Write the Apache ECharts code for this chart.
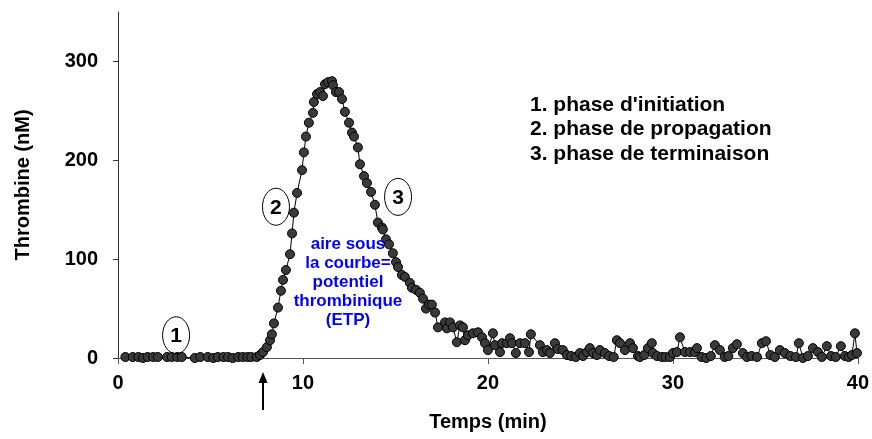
<!DOCTYPE html>
<html>
<head>
<meta charset="utf-8">
<script src="https://cdn.jsdelivr.net/npm/echarts@6/dist/echarts.min.js"></script>
<style>
html,body{margin:0;padding:0;background:#fff;}
#chart{width:872px;height:439px;}
</style>
</head>
<body>
<div id="chart"></div>
<script>
// Time (min)
var timeMin = [
 0.4,0.8,1.1,1.35,1.6,1.9,2.15,2.65,2.9,3.2,3.45,4.15,4.45,4.85,5.15,5.4,5.7,5.95,6.2,6.5,6.75,7.0,7.2,7.5,
 7.68,7.84,8.05,8.22,8.32,8.43,8.65,8.81,8.92,9.08,9.30,9.41,9.51,9.68,9.95,10.05,10.16,10.32,10.54,10.59,10.76,10.92,
 11.08,11.19,11.35,11.57,11.62,11.78,11.95,12.11,12.27,12.49,12.65,12.76,12.97,13.08,13.30,13.46,13.68,13.89,14.05,
 14.27,14.32,14.49,14.65,14.86,15.03,15.14,15.35,15.51,15.78,15.89,16.11,16.32,16.49,16.65,16.81,16.97,17.14,17.30,
 17.68,17.78,17.95,18.11,18.32,18.49,18.65,18.76,18.92,19.19,19.46,19.68,19.84,20.0,20.27,20.38,20.65,20.76,21.03,
 21.19,21.30,21.51,21.73,22.0,22.22,22.32,22.81,22.97,23.19,23.35,23.62,23.78,24.05,24.27,24.5,24.75,24.97,25.14,
 25.35,25.51,25.68,25.89,26.05,26.32,26.55,26.8,26.97,27.14,27.41,27.68,27.84,28.11,28.22,28.45,28.65,28.86,28.92,
 29.14,29.41,29.6,29.84,30.0,30.22,30.38,30.65,30.92,31.19,31.30,31.55,31.8,32.05,32.27,32.54,32.8,33.0,33.24,33.46,
 33.78,34.0,34.25,34.55,34.81,35.03,35.27,35.51,35.78,36.05,36.35,36.65,36.81,37.03,37.3,37.57,37.84,38.05,38.32,
 38.55,38.8,39.08,39.3,39.5,39.68,39.84,39.95
];
// Thrombin (nM)
var thrombin = [
 1,1,1,0,1,1,1,1,1,1,1,0,1,1,0,1,1,1,0,1,1,1,1,1,
 3,6,11,18,24,35,51,68,79,89,105,126,147,167,190,208,224,238,248,259,267,269,
 265,277,279,280,276,269,269,262,249,238,228,224,213,196,184,177,168,155,137,
 132,130,120,115,106,97,92,84,82,76,71,69,66,60,50,54,54,46,31,
 36,30,36,31,16,33,31,18,23,25,26,21,15,8,25,13,6,15,15,
 20,15,5,15,15,6,24,13,6,8,5,15,9,8,3,2,1,5,2,
 6,10,5,3,8,5,2,1,18,15,8,15,10,2,1,3,10,15,5,
 2,1,1,1,5,6,21,6,6,6,10,1,0,2,13,8,1,2,10,14,
 5,1,2,1,15,17,3,1,8,5,2,1,15,0,2,10,6,1,12,
 2,1,12,2,1,3,25,5
];
var xTicks = [0, 10, 20, 30, 40];
var yTicks = [0, 100, 200, 300];
var phaseLegend = ["1. phase d'initiation", "2. phase de propagation", "3. phase de terminaison"];
var etpText = ["aire sous", "la courbe=", "potentiel", "thrombinique", "(ETP)"];
// phase markers: [label, time, thrombin]
var phaseMarks = [["1", 3.14, 23], ["2", 8.54, 153], ["3", 15.14, 163]];
var arrowTime = 7.84;

var seriesData = timeMin.map(function (t, i) { return [t, thrombin[i]]; });
var FONT = '"Liberation Sans", Arial, sans-serif';

var chart = echarts.init(document.getElementById('chart'));
var option = {
  animation: false,
  backgroundColor: '#fff',
  grid: { left: 118, right: 14, top: 12, bottom: 81, containLabel: false },
  xAxis: {
    type: 'value', min: 0, max: 40, interval: 10,
    name: 'Temps (min)', nameLocation: 'middle', nameGap: 54,
    nameTextStyle: { fontFamily: FONT, fontWeight: 'bold', fontSize: 20, color: '#000' },
    axisLine: { lineStyle: { color: '#555', width: 1 } },
    axisTick: { show: true, inside: false, length: 6, lineStyle: { color: '#555' } },
    axisLabel: { margin: 15, fontFamily: FONT, fontWeight: 'bold', fontSize: 20, color: '#000' },
    splitLine: { show: false }
  },
  yAxis: {
    type: 'value', min: 0, max: 350,
    name: 'Thrombine (nM)', nameLocation: 'middle', nameGap: 85,
    nameTextStyle: { fontFamily: FONT, fontWeight: 'bold', fontSize: 20, color: '#000' },
    axisLine: { show: true, lineStyle: { color: '#333', width: 1 } },
    axisTick: { show: true, inside: false, length: 5, customValues: yTicks, lineStyle: { color: '#333' } },
    axisLabel: { margin: 20, customValues: yTicks, fontFamily: FONT, fontWeight: 'bold', fontSize: 20, color: '#000' },
    splitLine: { show: false }
  },
  series: [{
    type: 'line',
    data: seriesData,
    symbol: 'circle',
    symbolSize: 9,
    showAllSymbol: true,
    itemStyle: { color: '#3a3a3a', borderColor: '#000', borderWidth: 1 },
    lineStyle: { color: '#000', width: 1 },
    z: 3
  }]
};
chart.setOption(option);

function px(x, y) { return chart.convertToPixel({ gridIndex: 0 }, [x, y]); }

var graphics = [];
phaseMarks.forEach(function (m) {
  var p = px(m[1], m[2]);
  graphics.push({
    type: 'ellipse', shape: { cx: p[0], cy: p[1], rx: 13.5, ry: 18.5 },
    style: { fill: 'rgba(255,255,255,0)', stroke: '#000', lineWidth: 1 }, z: 10
  });
  graphics.push({
    type: 'text', x: p[0], y: p[1] + 1,
    style: { text: m[0], fontFamily: FONT, fontWeight: 'bold', fontSize: 21, fill: '#000', align: 'center', verticalAlign: 'middle' },
    z: 11
  });
});
// arrow under the x axis marking the lag time
var a0 = px(arrowTime, 0);
graphics.push({
  type: 'line', shape: { x1: a0[0], y1: a0[1] + 52, x2: a0[0], y2: a0[1] + 22 },
  style: { stroke: '#000', lineWidth: 2 }, z: 10
});
graphics.push({
  type: 'polygon', shape: { points: [[a0[0], a0[1] + 14], [a0[0] - 4.5, a0[1] + 25], [a0[0] + 4.5, a0[1] + 25]] },
  style: { fill: '#000' }, z: 10
});
// legend of phases
phaseLegend.forEach(function (s, i) {
  graphics.push({
    type: 'text', x: 530, y: 105 + i * 24.5,
    style: { text: s, fontFamily: FONT, fontWeight: 'bold', fontSize: 21, fill: '#000', align: 'left', verticalAlign: 'middle' },
    z: 10
  });
});
// ETP annotation
graphics.push({
  type: 'text', x: 348, y: 235,
  style: { text: etpText.join('\n'), fontFamily: FONT, fontWeight: 'bold', fontSize: 17, lineHeight: 19, fill: '#0000ff', align: 'center', verticalAlign: 'top' },
  z: 10
});
chart.setOption({ graphic: graphics });
</script>
</body>
</html>
